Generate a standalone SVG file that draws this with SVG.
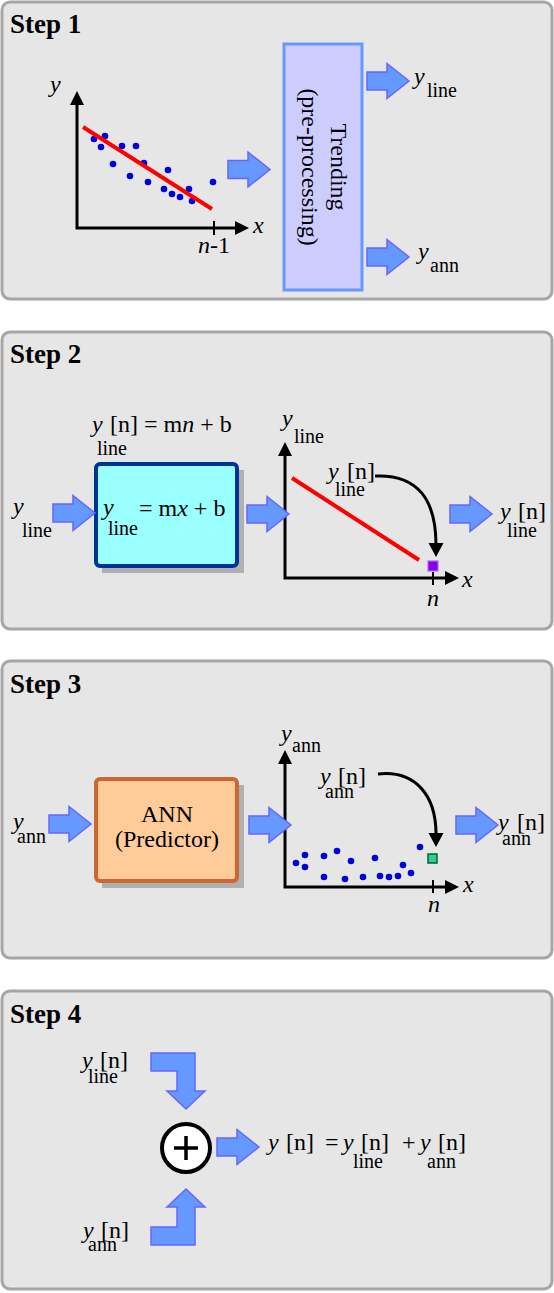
<svg xmlns="http://www.w3.org/2000/svg" xmlns:xlink="http://www.w3.org/1999/xlink" width="554" height="1293" viewBox="0 0 554 1293">
<style>
.panel{fill:#e6e6e6;stroke:#a6a6a6;stroke-width:3}
.t{font-family:"Liberation Serif","Times New Roman",serif;font-size:24px;fill:#000}
.i{font-style:italic}
.s{font-family:"Liberation Serif","Times New Roman",serif;font-size:20px;fill:#000}
.h{font-family:"Liberation Serif","Times New Roman",serif;font-size:27px;font-weight:bold;fill:#000}
.ax{stroke:#000;stroke-width:3;fill:none}
.ah{fill:#000}
.barrow{fill:#6699ff;stroke:#6666ff;stroke-width:1.5}
.red{stroke:#ff0000;stroke-width:4}
.dot{fill:#0000dd}
.shadow{fill:#b0b0b0}
.curve{stroke:#000;stroke-width:3;fill:none}
</style>
<defs>
<path id="ba" d="M0,-9 H20 V-17.5 L42,0 L20,17.5 V9 H0 Z"/>
</defs>

<g id="panel1">
<rect class="panel" x="2" y="2" width="550" height="297" rx="8"/>
<text class="h" x="10" y="33">Step 1</text>
</g>
<g id="panel2">
<rect class="panel" x="2" y="332" width="550" height="297" rx="8"/>
<text class="h" x="10" y="363">Step 2</text>
</g>
<g id="panel3">
<rect class="panel" x="2" y="661" width="550" height="297" rx="8"/>
<text class="h" x="10" y="693">Step 3</text>
</g>
<g id="panel4">
<rect class="panel" x="2" y="991" width="550" height="298" rx="8"/>
<text class="h" x="10" y="1023">Step 4</text>
</g>

<!-- Step 1 scatter plot -->
<g id="plot1">
<polyline class="ax" points="77,103 77,228 236,228"/>
<polygon class="ah" points="77,91 70,105 84,105"/>
<polygon class="ah" points="249,228 235,221 235,235"/>
<line x1="214" y1="221" x2="214" y2="235" stroke="#000" stroke-width="2"/>
<text class="t i" x="50" y="92">y</text>
<text class="t i" x="253" y="233">x</text>
<text class="t" x="198" y="253"><tspan class="i">n</tspan>-1</text>
<g class="dot">
<circle cx="94" cy="139" r="3.3"/><circle cx="105" cy="136" r="3.3"/><circle cx="101" cy="147" r="3.3"/>
<circle cx="122" cy="146" r="3.3"/><circle cx="136" cy="146" r="3.3"/><circle cx="113" cy="164" r="3.3"/>
<circle cx="144" cy="163" r="3.3"/><circle cx="130" cy="176" r="3.3"/><circle cx="148" cy="182" r="3.3"/>
<circle cx="168" cy="170" r="3.3"/><circle cx="164" cy="189" r="3.3"/><circle cx="172" cy="194" r="3.3"/>
<circle cx="180" cy="197" r="3.3"/><circle cx="189" cy="189" r="3.3"/><circle cx="192" cy="201" r="3.3"/>
<circle cx="213" cy="182" r="3.3"/>
</g>
<line class="red" x1="83" y1="127" x2="212" y2="209"/>
</g>

<g id="trending">
<rect x="284" y="44" width="78" height="246" fill="#ccccff" stroke="#6699ff" stroke-width="3"/>
<g transform="translate(323,167) rotate(90)">
<text class="t" x="0" y="-8" text-anchor="middle">Trending</text>
<text class="t" x="0" y="21" text-anchor="middle">(pre-processing)</text>
</g>
</g>

<g id="out1">
<text class="t i" x="414" y="84">y</text>
<text class="s" x="427" y="97">line</text>
<text class="t i" x="418" y="259">y</text>
<text class="s" x="430" y="272">ann</text>
</g>

<!-- Step 2 -->
<g id="in2">
<text class="t i" x="13" y="514">y</text>
<text class="s" x="22" y="537">line</text>
</g>
<g id="linebox">
<text class="t" x="92" y="432"><tspan class="i">y</tspan><tspan x="110">[n] = m</tspan><tspan class="i">n</tspan> + b</text>
<text class="s" x="97" y="455">line</text>
<rect class="shadow" x="102" y="470" width="142" height="103"/>
<rect x="96" y="464" width="141" height="102" rx="4" fill="#99ffff" stroke="#003399" stroke-width="4"/>
<text class="t i" x="103" y="515">y</text>
<text class="s" x="108" y="535">line</text>
<text class="t" x="139" y="516">= m<tspan class="i">x</tspan> + b</text>
</g>
<g id="plot2">
<polyline class="ax" points="285,454 285,578 447,578"/>
<polygon class="ah" points="285,442 278,456 292,456"/>
<polygon class="ah" points="459,578 445,571 445,585"/>
<line x1="433" y1="572" x2="433" y2="585" stroke="#000" stroke-width="2"/>
<text class="t i" x="282" y="426">y</text>
<text class="s" x="294" y="443">line</text>
<text class="t i" x="462" y="587">x</text>
<text class="t i" x="427" y="606">n</text>
<line class="red" x1="292" y1="478" x2="419" y2="560"/>
<rect x="428" y="561" width="10" height="10" fill="#8800ee" stroke="#aa66ff" stroke-width="1.2"/>
<text class="t i" x="328" y="479">y</text>
<text class="t" x="347" y="479">[n]</text>
<text class="s" x="335" y="496">line</text>
</g>
<g id="out2">
<text class="t i" x="500" y="519">y</text>
<text class="t" x="518" y="519">[n]</text>
<text class="s" x="507" y="537">line</text>
</g>

<!-- Step 3 -->
<g id="in3">
<text class="t i" x="13" y="829">y</text>
<text class="s" x="17" y="843">ann</text>
</g>
<g id="annbox">
<rect class="shadow" x="102" y="785" width="142" height="103"/>
<rect x="96" y="779" width="141" height="102" rx="4" fill="#ffcc99" stroke="#cc6633" stroke-width="4"/>
<text class="t" x="167" y="822" text-anchor="middle">ANN</text>
<text class="t" x="167" y="847" text-anchor="middle">(Predictor)</text>
</g>
<g id="plot3">
<polyline class="ax" points="285,762 285,887 447,887"/>
<polygon class="ah" points="285,750 278,764 292,764"/>
<polygon class="ah" points="459,887 445,880 445,894"/>
<line x1="433" y1="880" x2="433" y2="893" stroke="#000" stroke-width="2"/>
<text class="t i" x="281" y="741">y</text>
<text class="s" x="292" y="752">ann</text>
<text class="t i" x="463" y="892">x</text>
<text class="t i" x="428" y="912">n</text>
<g class="dot">
<circle cx="296" cy="863" r="3.3"/><circle cx="305" cy="855" r="3.3"/><circle cx="305" cy="867" r="3.3"/>
<circle cx="324" cy="856" r="3.3"/><circle cx="337" cy="851" r="3.3"/><circle cx="324" cy="877" r="3.3"/>
<circle cx="351" cy="861" r="3.3"/><circle cx="345" cy="879" r="3.3"/><circle cx="363" cy="877" r="3.3"/>
<circle cx="375" cy="858" r="3.3"/><circle cx="380" cy="876" r="3.3"/><circle cx="389" cy="877" r="3.3"/>
<circle cx="398" cy="876" r="3.3"/><circle cx="403" cy="865" r="3.3"/><circle cx="411" cy="873" r="3.3"/>
<circle cx="420" cy="847" r="3.3"/>
</g>
<rect x="428" y="854" width="9" height="9" fill="#33cc99" stroke="#006633" stroke-width="1.5"/>
<text class="t i" x="320" y="784">y</text>
<text class="t" x="338" y="784">[n]</text>
<text class="s" x="325" y="798">ann</text>
</g>
<g id="out3">
<text class="t i" x="498" y="830">y</text>
<text class="t" x="517" y="830">[n]</text>
<text class="s" x="502" y="845">ann</text>
</g>

<!-- Step 4 -->
<g id="inLine4">
<text class="t i" x="82" y="1068">y</text>
<text class="t" x="100" y="1068">[n]</text>
<text class="s" x="88" y="1083">line</text>
</g>
<g id="inAnn4">
<text class="t i" x="83" y="1238">y</text>
<text class="t" x="101" y="1238">[n]</text>
<text class="s" x="88" y="1251">ann</text>
</g>
<g id="sum">
<circle cx="186" cy="1148" r="24" fill="#fff" stroke="#000" stroke-width="4"/>
<path d="M174,1148 H198 M186,1136 V1160" stroke="#000" stroke-width="3.5"/>
</g>
<g id="result4">
<text class="t i" x="268" y="1150">y</text>
<text class="t" x="286" y="1150">[n]</text>
<text class="t" x="325" y="1150">=</text>
<text class="t i" x="343" y="1150">y</text>
<text class="t" x="361" y="1150">[n]</text>
<text class="s" x="353" y="1168">line</text>
<text class="t" x="402" y="1150">+</text>
<text class="t i" x="420" y="1150">y</text>
<text class="t" x="438" y="1150">[n]</text>
<text class="s" x="427" y="1168">ann</text>
</g>

<g id="connectors">
<use href="#ba" class="barrow" x="228" y="169.5"/>
<use href="#ba" class="barrow" x="367" y="81"/>
<use href="#ba" class="barrow" x="367" y="257"/>
<use href="#ba" class="barrow" x="53" y="513"/>
<use href="#ba" class="barrow" x="247" y="514"/>
<use href="#ba" class="barrow" x="450" y="514"/>
<use href="#ba" class="barrow" x="49" y="824"/>
<use href="#ba" class="barrow" x="249" y="825"/>
<use href="#ba" class="barrow" x="456" y="825"/>
<use href="#ba" class="barrow" x="217" y="1147"/>
<path class="barrow" d="M151,1053 H195 V1091 H205 L186,1109 L167,1091 H177 V1071 H151 Z"/>
<path class="barrow" d="M151,1245 H195 V1207 H205 L186,1189 L167,1207 H177 V1227 H151 Z"/>
<path class="curve" d="M375,476 C418,474 436,500 436,545"/>
<polygon class="ah" points="436,557 428.5,543 443.5,543"/>
<path class="curve" d="M378,774 C415,770 436,795 436,834"/>
<polygon class="ah" points="436,847 428.5,833 443.5,833"/>
</g>
</svg>
